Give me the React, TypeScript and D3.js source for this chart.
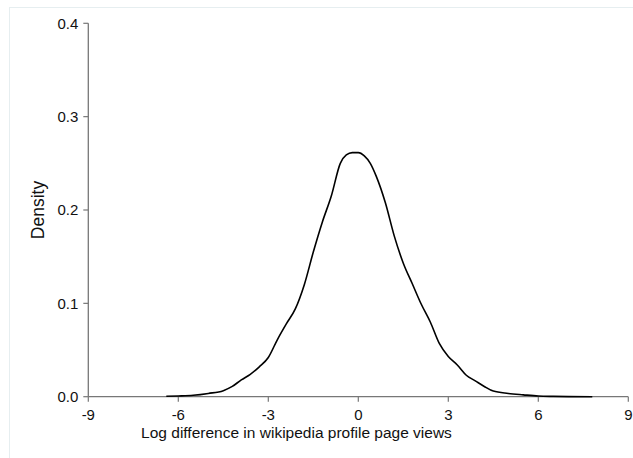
import React from "react";
import * as d3 from "d3";

const xVals = [-6.4, -6.0, -5.5, -5.0, -4.5, -4.2, -3.9, -3.6, -3.3, -3.0, -2.7, -2.4, -2.1, -1.8, -1.5, -1.2, -0.9, -0.6, -0.4, -0.2, 0.0, 0.2, 0.4, 0.6, 0.9, 1.2, 1.5, 1.8, 2.1, 2.4, 2.7, 3.0, 3.3, 3.6, 3.9, 4.2, 4.5, 5.0, 5.5, 6.0, 6.5, 7.0, 7.8];
const density = [0.0005, 0.0008, 0.0015, 0.0035, 0.0065, 0.011, 0.018, 0.024, 0.032, 0.042, 0.061, 0.078, 0.094, 0.12, 0.155, 0.187, 0.215, 0.25, 0.259, 0.2615, 0.2615, 0.258, 0.25, 0.236, 0.208, 0.172, 0.143, 0.121, 0.099, 0.08, 0.057, 0.043, 0.034, 0.023, 0.017, 0.011, 0.006, 0.0035, 0.002, 0.0007, 0.0003, 0.0001, 0.0];
const xTicks = [-9, -6, -3, 0, 3, 6, 9];
const yTicks = [0, 0.1, 0.2, 0.3, 0.4];

const W = 633;
const H = 458;

export default function App() {
  const x = d3.scaleLinear().domain([-9, 9]).range([88.3, 628.3]);
  const y = d3.scaleLinear().domain([0, 0.4]).range([396.7, 23.3]);
  const pts: [number, number][] = xVals.map((v, i) => [v, density[i]]);
  const line = d3
    .line<[number, number]>()
    .x((d) => x(d[0]))
    .y((d) => y(d[1]))
    .curve(d3.curveMonotoneX);
  const font = "'Liberation Sans', Arial, sans-serif";
  const axisColor = "#777";
  return (
    <svg
      width={W}
      height={H}
      style={{ position: "absolute", left: 0, top: 0, background: "#fff" }}
      fontFamily={font}
    >
      <rect x={9.5} y={7.5} width={W} height={H} fill="#fff" stroke="#e6eef0" strokeWidth={1} />
      {/* y axis */}
      <line x1={x(-9)} x2={x(-9)} y1={y(0.4)} y2={y(0)} stroke={axisColor} strokeWidth={1.3} />
      {yTicks.map((t) => (
        <g key={t}>
          <line x1={x(-9) - 5} x2={x(-9)} y1={y(t)} y2={y(t)} stroke={axisColor} strokeWidth={1.2} />
          <text x={x(-9) - 10} y={y(t) + 5.4} fontSize={15} textAnchor="end" fill="#111">
            {t.toFixed(1)}
          </text>
        </g>
      ))}
      {/* x axis */}
      <line x1={x(-9)} x2={x(9)} y1={y(0)} y2={y(0)} stroke={axisColor} strokeWidth={1.3} />
      {xTicks.map((t) => (
        <g key={t}>
          <line x1={x(t)} x2={x(t)} y1={y(0)} y2={y(0) + 5} stroke={axisColor} strokeWidth={1.2} />
          <text x={x(t)} y={y(0) + 23.5} fontSize={15} textAnchor="middle" fill="#111">
            {t}
          </text>
        </g>
      ))}
      <path d={line(pts) || ""} fill="none" stroke="#000" strokeWidth={1.6} />
      <text x={296.5} y={438} fontSize={15.5} textAnchor="middle" fill="#111">
        Log difference in wikipedia profile page views
      </text>
      <text
        transform={`translate(43.5, 210) rotate(-90)`}
        fontSize={17.5}
        textAnchor="middle"
        fill="#111"
      >
        Density
      </text>
    </svg>
  );
}
